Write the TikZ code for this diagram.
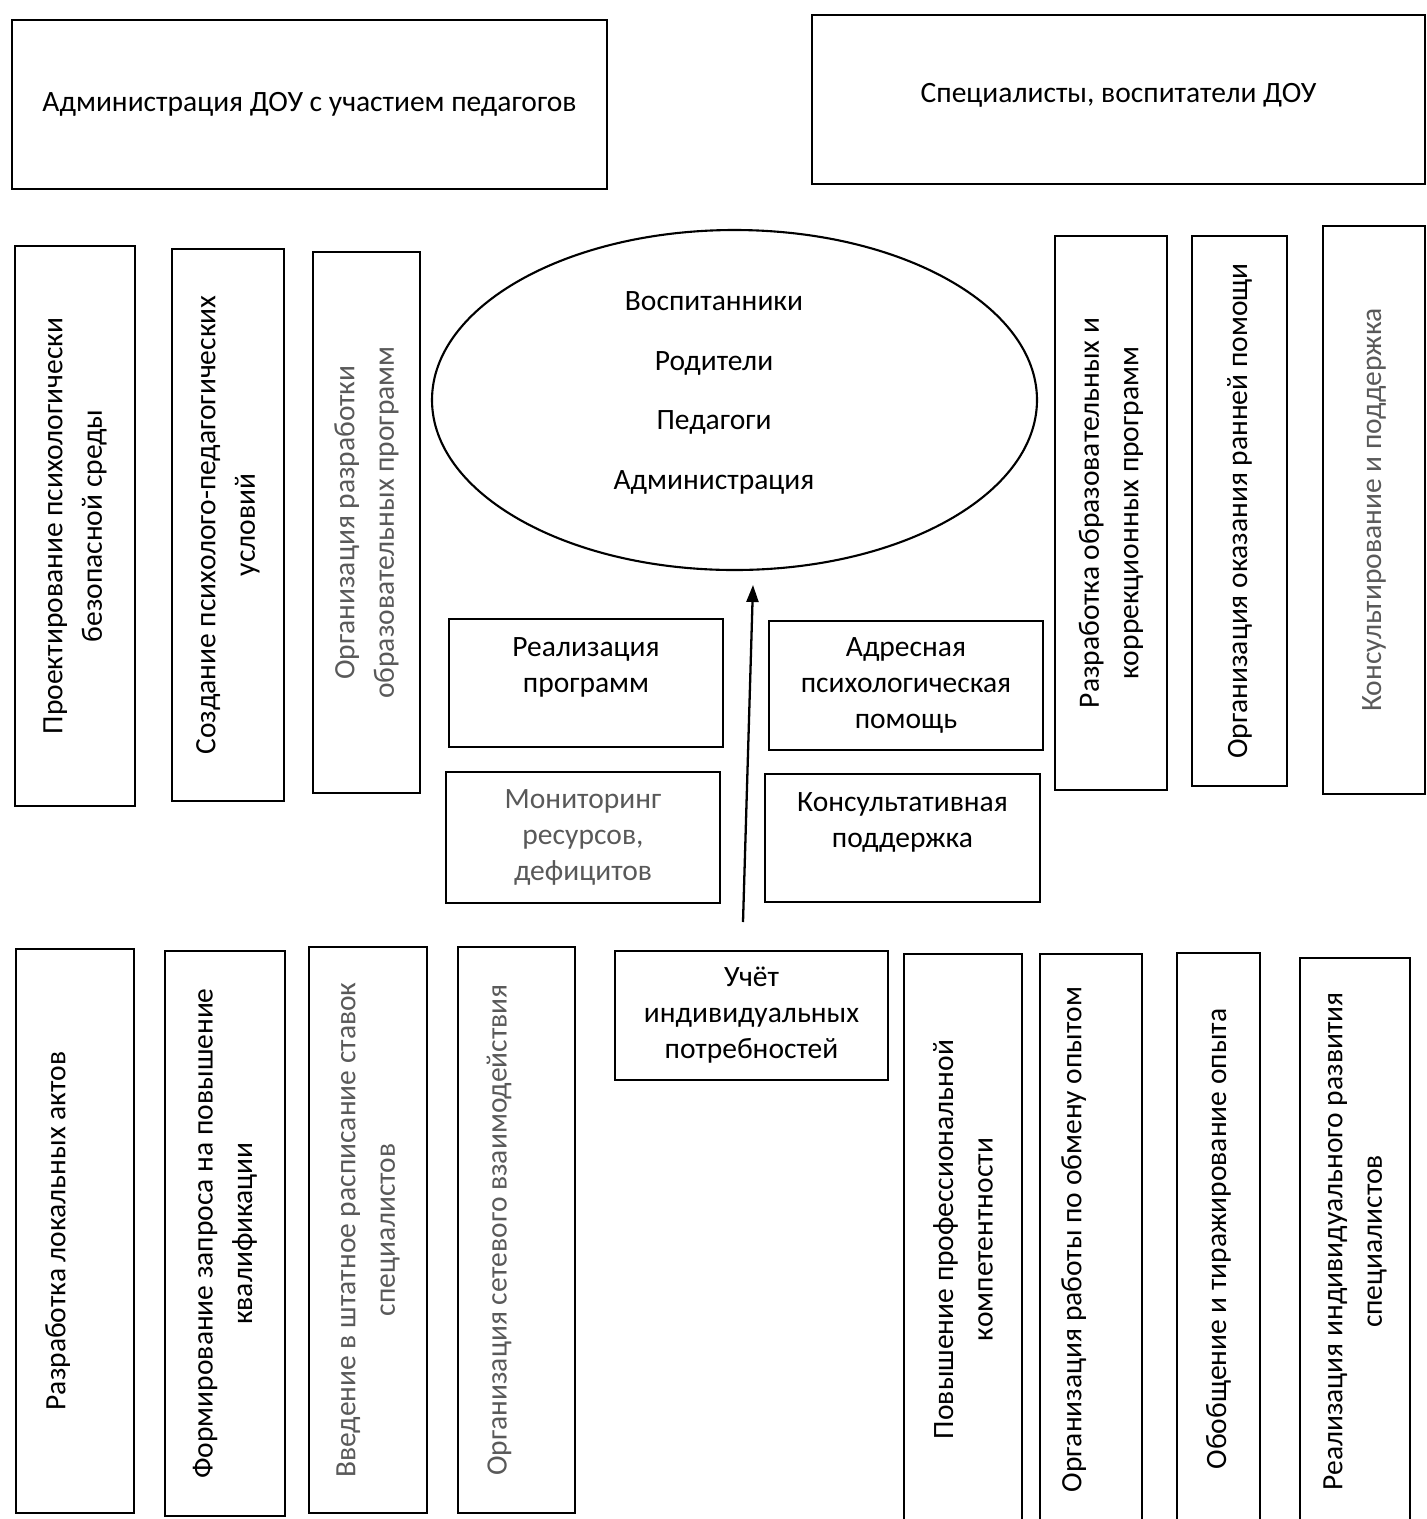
\documentclass[tikz,border=0pt]{standalone}
\usepackage{fontspec}
\setmainfont{Carlito}
\usetikzlibrary{arrows.meta, shapes}

\tikzset{
  box/.style={draw, line width=1.5pt, align=center, inner sep=0pt},
  hsz/.style 2 args={minimum width=#1*0.02cm, minimum height=#2*0.02cm, font=\fontsize{16.8}{20.5}\selectfont},
  vsz/.style 2 args={rotate=90, minimum width=#2*0.02cm, minimum height=#1*0.02cm},
  faint/.style={text=black!65},
}

\begin{document}
\begin{tikzpicture}[x=0.02cm, y=-0.02cm, font=\fontsize{16.8}{22.5}\selectfont]
\useasboundingbox (0,0) rectangle (1427,1519);
\clip (0,0) rectangle (1427,1519);
% top
\node[box, hsz={595}{169}] (adm) at (309.5,104.5) {Администрация ДОУ с участием педагогов};
\node[box, hsz={613}{169}] (spec) at (1118.5,99.5) {Специалисты, воспитатели ДОУ\\[-13pt]\mbox{}};
% upper left
\node[box, vsz={120}{560}] (proekt) at (75,526) {Проектирование психологически\\безопасной среды};
\node[box, vsz={112}{552}] (sozd) at (228,525) {Создание психолого-педагогических\\условий};
\node[box, faint, vsz={107}{541}] (orgrazr) at (366.5,522.5) {Организация разработки\\образовательных программ};
% centre
\node[draw, ellipse, line width=1.2pt, minimum width=605*0.02cm, minimum height=340*0.02cm, inner sep=0pt] (ell) at (734.5,400) {};
\node[align=center, font=\fontsize{16.8}{34}\selectfont] (members) at (714,393) {Воспитанники\\Родители\\Педагоги\\Администрация};
% upper right
\node[box, vsz={112}{554}] (razrobr) at (1111,513) {Разработка образовательных и\\коррекционных программ};
\node[box, vsz={95}{550}] (rannyaya) at (1239.5,511) {Организация оказания ранней помощи};
\node[box, faint, vsz={102}{568}] (konsult) at (1374,510) {Консультирование и поддержка};
% middle
\node[box, hsz={274}{128}] (realiz) at (586,683) {Реализация\\программ\\\mbox{}};
\node[box, hsz={274}{129}] (adres) at (906,685.5) {Адресная\\психологическая\\помощь};
\node[box, faint, hsz={274}{131}] (monit) at (583,837.5) {Мониторинг\\ресурсов,\\дефицитов};
\node[box, hsz={275}{128}] (konspodd) at (902.5,838) {Консультативная\\поддержка\\\mbox{}};
\node[box, hsz={273}{129}] (uchet) at (751.5,1015.5) {Учёт\\индивидуальных\\потребностей};
\coordinate (arrbase) at (743,922);
\coordinate (arrtip) at (753,585);
\draw[line width=1.3pt, -{Triangle[length=0.34cm, width=0.24cm]}] (arrbase) -- (arrtip);
% lower left
\node[box, vsz={118}{564}] (lokakt) at (75,1231) {Разработка локальных актов\\\mbox{}};
\node[box, vsz={120}{565}] (formir) at (225,1233.5) {Формирование запроса на повышение\\квалификации};
\node[box, faint, vsz={118}{566}] (vveden) at (368,1230) {Введение в штатное расписание ставок\\специалистов};
\node[box, faint, vsz={117}{566}] (setev) at (516.5,1230) {Организация сетевого взаимодействия\\\mbox{}};
% lower right
\node[box, vsz={118}{571}] (povysh) at (963,1239.5) {Повышение профессиональной\\компетентности};
\node[box, vsz={102}{571}] (obmen) at (1091,1239.5) {Организация работы по обмену опытом\\\mbox{}};
\node[box, vsz={83}{572}] (obobshch) at (1218.5,1239) {Обобщение и тиражирование опыта};
\node[box, vsz={110}{567}] (individ) at (1355,1241.5) {Реализация индивидуального развития\\специалистов};
\end{tikzpicture}
\end{document}
